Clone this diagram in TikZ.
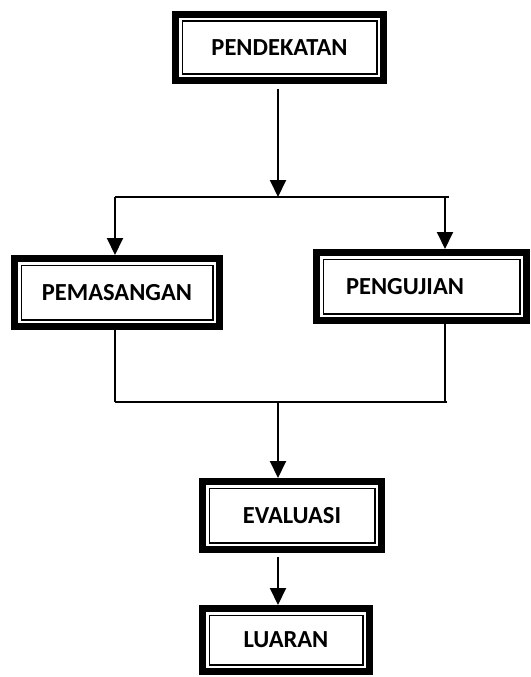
\documentclass[tikz,border=0pt]{standalone}
\usepackage{fontspec}
\setmainfont{Carlito}
\usetikzlibrary{arrows.meta,calc}
\tikzset{
  boxnode/.style={
    fill=black, inner sep=0pt, outer sep=0pt,
    font=\bfseries\fontsize{24.5}{29}\selectfont,
    path picture={
      \fill[white] ([shift={(7pt,-7pt)}]path picture bounding box.north west)
        rectangle ([shift={(-7pt,7pt)}]path picture bounding box.south east);
      \draw[black,line width=1.8pt] ([shift={(10.4pt,-10.4pt)}]path picture bounding box.north west)
        rectangle ([shift={(-10.4pt,10.4pt)}]path picture bounding box.south east);
    }
  },
  arrowline/.style={line width=2pt, -{Triangle[width=16pt,length=17pt]}},
  plainline/.style={line width=1.3pt}
}
\begin{document}
\begin{tikzpicture}[x=1pt,y=-1pt]
\useasboundingbox (0,0) rectangle (530,677);
\fill[white] (0,0) rectangle (530,677);

\node[boxnode, minimum width=215pt, minimum height=73pt] (pend) at (279.5,47.5) {PENDEKATAN};
\node[boxnode, minimum width=212pt, minimum height=75pt] (pema) at (117,292.5) {PEMASANGAN};
\node[boxnode, minimum width=217pt, minimum height=75pt] (peng) at (421.5,286.5) {PENGUJIAN\hspace*{33pt}};
\node[boxnode, minimum width=186pt, minimum height=75pt] (eval) at (292,515.5) {EVALUASI};
\node[boxnode, minimum width=174pt, minimum height=70pt] (luar) at (286,640) {LUARAN};

\coordinate (jt) at (278,197);
\coordinate (jl) at (115,197);
\coordinate (jr) at (445,197);
\coordinate (jre) at (449,197);
\coordinate (bl) at (115,402);
\coordinate (br) at (445,402);
\coordinate (bre) at (447,402);
\coordinate (bc) at (278,402);

\draw[arrowline, shorten <=5pt] (jt |- pend.south) -- (jt);
\draw[plainline] (jl) -- (jre);
\draw[arrowline] (jl) -- (jl |- pema.north);
\draw[arrowline] (jr) -- (jr |- peng.north);

\draw[plainline] (bl |- pema.south) -- (bl);
\draw[plainline] (br |- peng.south) -- (br);
\draw[plainline] (bl) -- (bre);
\draw[arrowline] (bc) -- (bc |- eval.north);
\draw[arrowline, shorten <=4pt] (bc |- eval.south) -- (bc |- luar.north);
\end{tikzpicture}
\end{document}
